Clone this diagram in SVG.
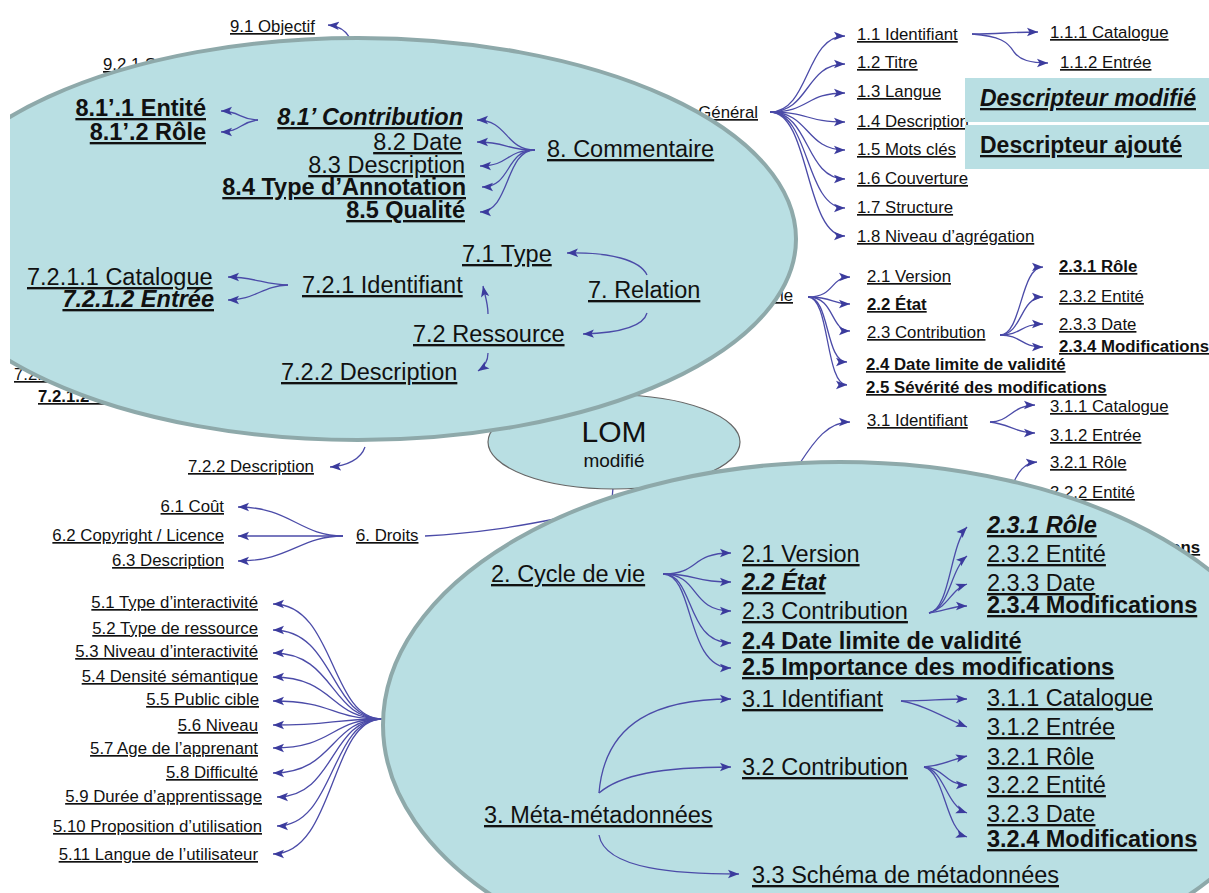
<svg xmlns="http://www.w3.org/2000/svg" width="1209" height="893" viewBox="0 0 1209 893">
<style>
text{font-family:"Liberation Sans",Arial,sans-serif;fill:#111;}
.s{font-size:16.8px;text-decoration:underline;}
.L{font-size:23.5px;text-decoration:underline;}
.b{font-weight:bold;}
.i{font-style:italic;}
.e{text-anchor:end;}
.c{fill:none;stroke:#4b4ba8;stroke-width:1.3;marker-end:url(#ah);}
.n{fill:none;stroke:#4b4ba8;stroke-width:1.3;}
.bubble{fill:#b9dfe3;stroke:#8ea9aa;stroke-width:4;}
.leg{fill:#b9dfe3;}
</style>
<defs>
<marker id="ah" markerUnits="userSpaceOnUse" markerWidth="12" markerHeight="10" refX="11" refY="5" orient="auto"><path d="M0,0.8 L11,5 L0,9.2 L2.5,5 Z" fill="#3b3b9d"/></marker>
<clipPath id="clipL"><rect x="10" y="0" width="1199" height="893"/></clipPath>
</defs>
<rect width="1209" height="893" fill="#fff"/>

<!-- background connectors -->
<g id="bg-connectors">
<path class="c" d="M350,38 C346,31 340,26 328,25"/>
<path class="c" d="M770,112 C810,112 805,36 845,36"/>
<path class="c" d="M770,112 C810,112 805,64 845,64"/>
<path class="c" d="M770,112 C810,112 805,93 845,93"/>
<path class="c" d="M770,112 C810,112 805,122 845,122"/>
<path class="c" d="M770,112 C810,112 805,150 845,150"/>
<path class="c" d="M770,112 C810,112 805,179 845,179"/>
<path class="c" d="M770,112 C810,112 805,208 845,208"/>
<path class="c" d="M770,112 C810,112 805,236 845,236"/>
<path class="c" d="M972,34 C1000,34 1010,32 1038,32"/>
<path class="c" d="M972,34 C1000,36 1008,42 1014,52 C1020,60 1030,63 1048,63"/>
<path class="c" d="M808,297 C835,297 830,277 850,277"/>
<path class="c" d="M808,297 C835,297 830,304 850,304"/>
<path class="c" d="M808,297 C835,297 830,331 850,331"/>
<path class="c" d="M808,297 C830,297 825,362 847,362"/>
<path class="c" d="M808,297 C830,297 825,385 847,385"/>
<path class="c" d="M1000,335 C1022,335 1020,267 1043,267"/>
<path class="c" d="M1000,335 C1022,335 1020,297 1043,297"/>
<path class="c" d="M1000,335 C1022,335 1020,324 1043,324"/>
<path class="c" d="M1000,335 C1022,335 1020,347 1043,347"/>
<path class="c" d="M800,463 C815,440 828,422 850,422"/>
<path class="c" d="M990,422 C1010,422 1012,405 1035,405"/>
<path class="c" d="M990,422 C1010,424 1015,433 1035,433"/>
<path class="c" d="M1013,484 C1018,472 1024,463 1037,462"/>
<path class="c" d="M365,447 C361,459 347,466 330,467"/>
<path class="c" d="M343,536 C300,536 290,507 238,507"/>
<path class="c" d="M343,536 L238,536"/>
<path class="c" d="M343,536 C300,536 290,561 238,561"/>
<path class="n" d="M425,536 C480,533 520,526 560,518"/>
<path class="n" d="M613,488 L611,510"/>
<path class="c" d="M382,719 C330,719 335,604 273,604"/>
<path class="c" d="M382,719 C330,719 335,630 273,630"/>
<path class="c" d="M382,719 C330,719 335,653 273,653"/>
<path class="c" d="M382,719 C330,719 335,677 273,677"/>
<path class="c" d="M382,719 C330,719 335,701 273,701"/>
<path class="c" d="M382,719 C330,719 335,725 273,725"/>
<path class="c" d="M382,719 C330,719 335,748 273,748"/>
<path class="c" d="M382,719 C330,719 335,773 273,773"/>
<path class="c" d="M382,719 C330,719 335,797 277,797"/>
<path class="c" d="M382,719 C330,719 335,826 277,826"/>
<path class="c" d="M382,719 C330,719 335,854 273,854"/>
</g>

<!-- background nodes -->
<g id="bg-9-1"><text class="s" x="230" y="32">9.1 Objectif</text></g>
<g id="bg-9-2-1"><text class="s" x="103" y="70">9.2.1 So</text></g>
<g id="bg-1"><text class="s e" x="758" y="118">1. Général</text></g>
<g id="bg-1-1"><text class="s" x="857" y="40">1.1 Identifiant</text></g>
<g id="bg-1-2"><text class="s" x="857" y="68">1.2 Titre</text></g>
<g id="bg-1-3"><text class="s" x="857" y="97">1.3 Langue</text></g>
<g id="bg-1-4"><text class="s" x="857" y="127">1.4 Description</text></g>
<g id="bg-1-5"><text class="s" x="857" y="155">1.5 Mots clés</text></g>
<g id="bg-1-6"><text class="s" x="857" y="184">1.6 Couverture</text></g>
<g id="bg-1-7"><text class="s" x="857" y="213">1.7 Structure</text></g>
<g id="bg-1-8"><text class="s" x="857" y="242">1.8 Niveau d’agrégation</text></g>
<g id="bg-1-1-1"><text class="s" x="1050" y="38">1.1.1 Catalogue</text></g>
<g id="bg-1-1-2"><text class="s" x="1060" y="68">1.1.2 Entrée</text></g>
<g id="bg-2"><text class="s e" x="793" y="301">2. Cycle de vie</text></g>
<g id="bg-2-1"><text class="s" x="867" y="282">2.1 Version</text></g>
<g id="bg-2-2"><text class="s b" x="867" y="310">2.2 État</text></g>
<g id="bg-2-3"><text class="s" x="867" y="338">2.3 Contribution</text></g>
<g id="bg-2-4"><text class="s b" x="866" y="370">2.4 Date limite de validité</text></g>
<g id="bg-2-5"><text class="s b" x="866" y="393">2.5 Sévérité des modifications</text></g>
<g id="bg-2-3-1"><text class="s b" x="1059" y="272">2.3.1 Rôle</text></g>
<g id="bg-2-3-2"><text class="s" x="1059" y="302">2.3.2 Entité</text></g>
<g id="bg-2-3-3"><text class="s" x="1059" y="330">2.3.3 Date</text></g>
<g id="bg-2-3-4"><text class="s b" x="1059" y="352">2.3.4 Modifications</text></g>
<g id="bg-3-1"><text class="s" x="867" y="426">3.1 Identifiant</text></g>
<g id="bg-3-1-1"><text class="s" x="1050" y="412">3.1.1 Catalogue</text></g>
<g id="bg-3-1-2"><text class="s" x="1050" y="441">3.1.2 Entrée</text></g>
<g id="bg-3-2-1"><text class="s" x="1050" y="468">3.2.1 Rôle</text></g>
<g id="bg-3-2-2"><text class="s" x="1050" y="498">3.2.2 Entité</text></g>
<g id="bg-3-2-4"><text class="s b" x="1050" y="553">3.2.4 Modifications</text></g>
<g id="bg-7-2-2"><text class="s" x="188" y="472">7.2.2 Description</text></g>
<g id="bg-7-2-1-1"><text class="s" x="14" y="380">7.2.1.1 Catalogue</text></g>
<g id="bg-7-2-1-2"><text class="s b" x="38" y="402">7.2.1.2 Entrée</text></g>
<g id="bg-6"><text class="s" x="356" y="541">6. Droits</text></g>
<g id="bg-6-1"><text class="s e" x="224" y="512">6.1 Coût</text></g>
<g id="bg-6-2"><text class="s e" x="224" y="541">6.2 Copyright / Licence</text></g>
<g id="bg-6-3"><text class="s e" x="224" y="566">6.3 Description</text></g>
<g id="bg-5-1"><text class="s e" x="258" y="608">5.1 Type d’interactivité</text></g>
<g id="bg-5-2"><text class="s e" x="258" y="634">5.2 Type de ressource</text></g>
<g id="bg-5-3"><text class="s e" x="258" y="657">5.3 Niveau d’interactivité</text></g>
<g id="bg-5-4"><text class="s e" x="258" y="682">5.4 Densité sémantique</text></g>
<g id="bg-5-5"><text class="s e" x="259" y="705">5.5 Public cible</text></g>
<g id="bg-5-6"><text class="s e" x="258" y="731">5.6 Niveau</text></g>
<g id="bg-5-7"><text class="s e" x="258" y="754">5.7 Age de l’apprenant</text></g>
<g id="bg-5-8"><text class="s e" x="258" y="778">5.8 Difficulté</text></g>
<g id="bg-5-9"><text class="s e" x="262" y="802">5.9 Durée d’apprentissage</text></g>
<g id="bg-5-10"><text class="s e" x="262" y="832">5.10 Proposition d’utilisation</text></g>
<g id="bg-5-11"><text class="s e" x="258" y="860">5.11 Langue de l’utilisateur</text></g>

<!-- central node -->
<g id="lom">
<ellipse cx="614" cy="442" rx="126" ry="47" fill="#b9dfe3" stroke="#666" stroke-width="1.2"/>
<text x="614" y="442" text-anchor="middle" font-size="30">LOM</text>
<text x="614" y="467" text-anchor="middle" font-size="19">modifié</text>
</g>

<!-- top-left zoom bubble -->
<g id="bubble-commentaire-relation">
<ellipse class="bubble" cx="358" cy="239" rx="438" ry="201" clip-path="url(#clipL)"/>
</g>
<g id="fg-connectors-top">
<path class="c" d="M535,150 C505,150 508,120 477,120"/>
<path class="c" d="M535,150 C505,150 508,142 477,142"/>
<path class="c" d="M535,150 C505,150 510,166 480,166"/>
<path class="c" d="M535,150 C505,150 512,187 482,187"/>
<path class="c" d="M535,150 C505,150 510,212 480,212"/>
<path class="c" d="M258,120 C240,120 240,111 221,111"/>
<path class="c" d="M258,120 C240,122 240,132 221,132"/>
<path class="c" d="M647,275 C640,260 610,252 567,253"/>
<path class="c" d="M647,313 C643,328 615,333 583,334"/>
<path class="c" d="M488,314 C488,303 485,296 483,286"/>
<path class="c" d="M488,353 C488,362 484,367 478,371"/>
<path class="c" d="M288,285 C265,285 255,277 228,277"/>
<path class="c" d="M288,285 C262,286 255,300 228,300"/>
</g>
<g id="fg-8"><text class="L" x="547" y="157">8. Commentaire</text></g>
<g id="fg-8-1"><text class="L b i e" x="463" y="125">8.1’ Contribution</text></g>
<g id="fg-8-2"><text class="L e" x="462" y="150">8.2 Date</text></g>
<g id="fg-8-3"><text class="L e" x="465" y="173">8.3 Description</text></g>
<g id="fg-8-4"><text class="L b e" x="466" y="195">8.4 Type d’Annotation</text></g>
<g id="fg-8-5"><text class="L b e" x="465" y="218">8.5 Qualité</text></g>
<g id="fg-8-1-1"><text class="L b e" x="206" y="116">8.1’.1 Entité</text></g>
<g id="fg-8-1-2"><text class="L b e" x="206" y="140">8.1’.2 Rôle</text></g>
<g id="fg-7"><text class="L" x="588" y="298">7. Relation</text></g>
<g id="fg-7-1"><text class="L" x="462" y="262">7.1 Type</text></g>
<g id="fg-7-2"><text class="L" x="413" y="342">7.2 Ressource</text></g>
<g id="fg-7-2-1"><text class="L" x="302" y="293">7.2.1 Identifiant</text></g>
<g id="fg-7-2-1-1"><text class="L" x="27" y="285">7.2.1.1 Catalogue</text></g>
<g id="fg-7-2-1-2"><text class="L b i e" x="214" y="307">7.2.1.2 Entrée</text></g>
<g id="fg-7-2-2"><text class="L" x="281" y="380">7.2.2 Description</text></g>

<!-- bottom-right zoom bubble -->
<g id="bubble-cycle-meta">
<ellipse class="bubble" cx="840" cy="725" rx="457" ry="263"/>
</g>
<g id="fg-connectors-bottom">
<path class="c" d="M663,574 C700,574 690,553 731,553"/>
<path class="c" d="M663,574 C700,574 690,582 731,582"/>
<path class="c" d="M663,574 C700,574 690,611 731,611"/>
<path class="c" d="M663,574 C695,574 685,643 731,643"/>
<path class="c" d="M663,574 C695,574 685,668 731,668"/>
<path class="c" d="M929,613 C950,610 950,545 967,527"/>
<path class="c" d="M929,613 C950,608 950,570 967,556"/>
<path class="c" d="M929,613 C950,606 950,590 967,584"/>
<path class="c" d="M929,613 C945,611 952,606 967,606"/>
<path class="c" d="M599,793 C605,720 660,699 731,699"/>
<path class="c" d="M599,793 C620,775 660,767 731,767"/>
<path class="c" d="M599,835 C605,870 680,874 739,874"/>
<path class="c" d="M901,701 C930,701 940,699 967,699"/>
<path class="c" d="M901,701 C925,705 945,718 967,727"/>
<path class="c" d="M924,767 C945,765 950,760 967,756"/>
<path class="c" d="M924,767 C945,768 945,785 967,785"/>
<path class="c" d="M924,767 C945,770 945,805 967,813"/>
<path class="c" d="M924,767 C945,772 945,830 967,837"/>
</g>
<g id="fg-2"><text class="L" x="491" y="582">2. Cycle de vie</text></g>
<g id="fg-2-1"><text class="L" x="742" y="562">2.1 Version</text></g>
<g id="fg-2-2"><text class="L b i" x="742" y="590">2.2 État</text></g>
<g id="fg-2-3"><text class="L" x="742" y="619">2.3 Contribution</text></g>
<g id="fg-2-4"><text class="L b" x="742" y="649">2.4 Date limite de validité</text></g>
<g id="fg-2-5"><text class="L b" x="742" y="675">2.5 Importance des modifications</text></g>
<g id="fg-2-3-1"><text class="L b i" x="987" y="533">2.3.1 Rôle</text></g>
<g id="fg-2-3-2"><text class="L" x="987" y="562">2.3.2 Entité</text></g>
<g id="fg-2-3-3"><text class="L" x="987" y="591">2.3.3 Date</text></g>
<g id="fg-2-3-4"><text class="L b" x="987" y="613">2.3.4 Modifications</text></g>
<g id="fg-3"><text class="L" x="484" y="823">3. Méta-métadonnées</text></g>
<g id="fg-3-1"><text class="L" x="742" y="707">3.1 Identifiant</text></g>
<g id="fg-3-1-1"><text class="L" x="987" y="706">3.1.1 Catalogue</text></g>
<g id="fg-3-1-2"><text class="L" x="987" y="735">3.1.2 Entrée</text></g>
<g id="fg-3-2"><text class="L" x="742" y="775">3.2 Contribution</text></g>
<g id="fg-3-2-1"><text class="L" x="987" y="765">3.2.1 Rôle</text></g>
<g id="fg-3-2-2"><text class="L" x="987" y="793">3.2.2 Entité</text></g>
<g id="fg-3-2-3"><text class="L" x="987" y="822">3.2.3 Date</text></g>
<g id="fg-3-2-4"><text class="L b" x="987" y="847">3.2.4 Modifications</text></g>
<g id="fg-3-3"><text class="L" x="752" y="883">3.3 Schéma de métadonnées</text></g>

<!-- legend -->
<g id="legend-modifie">
<rect class="leg" x="965" y="78" width="244" height="44"/>
<text class="b i" x="980" y="106" font-size="23" text-decoration="underline" style="text-decoration:underline">Descripteur modifié</text>
</g>
<g id="legend-ajoute">
<rect class="leg" x="965" y="125" width="244" height="44"/>
<text class="b" x="980" y="153" font-size="23" style="text-decoration:underline">Descripteur ajouté</text>
</g>
</svg>
